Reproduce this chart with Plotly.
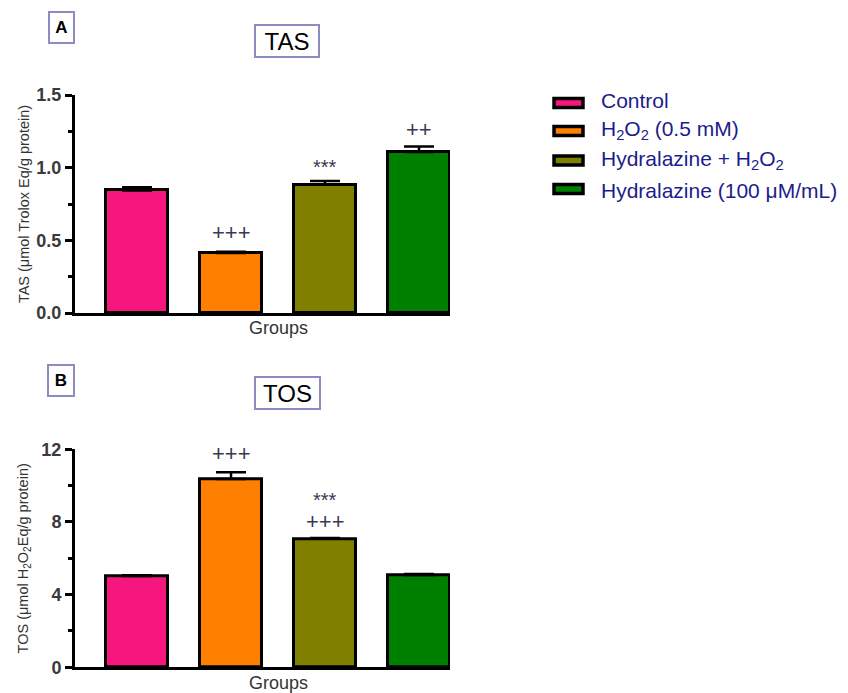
import plotly.graph_objects as go

groups = ["Control", "H<sub>2</sub>O<sub>2</sub> (0.5 mM)", "Hydralazine + H<sub>2</sub>O<sub>2</sub>", "Hydralazine (100 μM/mL)"]
colors = ["#F5167E", "#FF8000", "#808000", "#008000"]

tas_values = [0.843, 0.413, 0.882, 1.107]
tas_err = [0.022, 0.008, 0.027, 0.038]
tos_values = [5.03, 10.37, 7.07, 5.08]
tos_err = [0.04, 0.37, 0.05, 0.05]

tas_marks = [(1, 0.555, "+++", 22), (2, 1.005, "***", 20), (3, 1.265, "++", 22)]
tos_marks = [(1, 11.75, "+++", 22), (2, 9.2, "***", 20), (2, 8.05, "+++", 22)]

# The page has an 8px body margin; draw on an 840x685 canvas offset by 8px.
OFF = 8
W, H = 848 - OFF, 693 - OFF
def px(x):
    return (x - OFF) / W
def py(y):
    return 1 - (y - OFF) / H

xs = list(range(len(groups)))
fig = go.Figure()
for vals, errs, xa, ya in [(tas_values, tas_err, "x", "y"), (tos_values, tos_err, "x2", "y2")]:
    fig.add_trace(go.Bar(
        x=xs, y=vals, xaxis=xa, yaxis=ya, width=0.66,
        marker=dict(color=colors, line=dict(color="black", width=3)),
        error_y=dict(type="data", array=errs, arrayminus=[0] * len(errs), symmetric=False,
                     color="black", thickness=2.5, width=15),
        showlegend=False,
    ))

font_fam = "Liberation Sans, Arial, sans-serif"
tick_font = dict(family=font_fam, size=18, color="#3a3a3a", weight="bold")
common_x = dict(range=[-0.66, 3.33], showline=True, linewidth=3, linecolor="black",
                showticklabels=False, ticks="", showgrid=False, zeroline=False, automargin=False)
title_font = dict(family=font_fam, size=14.5, color="#333")
fig.update_layout(
    width=W, height=H, margin=dict(l=0, r=0, t=0, b=0, autoexpand=False),
    paper_bgcolor="white", plot_bgcolor="white", bargap=0,
    xaxis=dict(domain=[px(75), px(450)], anchor="y", **common_x),
    xaxis2=dict(domain=[px(75), px(450)], anchor="y2", **common_x),
    yaxis=dict(domain=[py(313), py(95)], anchor="x", range=[0, 1.5], tickvals=[0, 0.5, 1.0, 1.5],
               ticktext=["0.0", "0.5", "1.0", "1.5"], ticks="outside", ticklen=7, tickwidth=2.5,
               tickcolor="black", showline=True, linewidth=3, linecolor="black", showgrid=False,
               zeroline=False, tickfont=tick_font, automargin=False,
               minor=dict(tickvals=[0.25, 0.75, 1.25], ticks="outside", ticklen=4, tickwidth=2.5, tickcolor="black"),
               title=dict(text="TAS (μmol Trolox Eq/g protein)", font=title_font, standoff=4)),
    yaxis2=dict(domain=[py(667.3), py(449.3)], anchor="x2", range=[0, 12], tickvals=[0, 4, 8, 12],
                ticks="outside", ticklen=7, tickwidth=2.5,
                tickcolor="black", showline=True, linewidth=3, linecolor="black", showgrid=False,
                zeroline=False, tickfont=tick_font, automargin=False,
                minor=dict(tickvals=[2, 6, 10], ticks="outside", ticklen=4, tickwidth=2.5, tickcolor="black"),
                title=dict(text="TOS (μmol H<sub>2</sub>O<sub>2</sub>Eq/g protein)", font=title_font, standoff=10)),
)

anns = []
def mfont(sz):
    return dict(family=font_fam, size=sz, color="#3a3a52")
for x, y, t, sz in tas_marks:
    anns.append(dict(x=x, y=y, xref="x", yref="y", text=t, showarrow=False, font=mfont(sz)))
for x, y, t, sz in tos_marks:
    anns.append(dict(x=x, y=y, xref="x2", yref="y2", text=t, showarrow=False, font=mfont(sz)))
# Groups labels
for gy in (328, 683):
    anns.append(dict(x=px(278), y=py(gy), xref="paper", yref="paper", text="Groups", showarrow=False,
                     xanchor="center", yanchor="middle",
                     font=dict(family=font_fam, size=18, color="#333")))
# Titles boxes
box = "#8c8cc0"
for cx, cy, t, sz, bold, w, h in [(287, 40.5, "TAS", 24, False, 60, 28), (287, 393, "TOS", 24, False, 61, 28),
                                  (61.5, 28, "A", 17, True, 21, 27), (60.5, 380, "B", 17, True, 22, 27)]:
    anns.append(dict(x=px(cx), y=py(cy), xref="paper", yref="paper",
                     xanchor="center", yanchor="middle", width=w, height=h,
                     text=("<b>%s</b>" % t) if bold else t, showarrow=False,
                     font=dict(family=font_fam, size=sz, color="black"),
                     bordercolor=box, borderwidth=2, borderpad=1, bgcolor="white"))

# Manual legend
shapes = []
sw_y = [103, 131, 160.5, 189]
txt_y = [101, 130, 160, 191]
for i, (g, c) in enumerate(zip(groups, colors)):
    y = sw_y[i]
    shapes.append(dict(type="rect", xref="paper", yref="paper",
                       x0=px(554), x1=px(583), y0=py(y + 4.5), y1=py(y - 4.5),
                       fillcolor=c, line=dict(color="black", width=3.5)))
    anns.append(dict(x=px(599), y=py(txt_y[i]), xref="paper", yref="paper", text=g, showarrow=False,
                     xanchor="left", yanchor="middle",
                     font=dict(family=font_fam, size=21, color="#1c1c8c")))
fig.update_layout(annotations=anns, shapes=shapes)
fig.write_html("out.html")
